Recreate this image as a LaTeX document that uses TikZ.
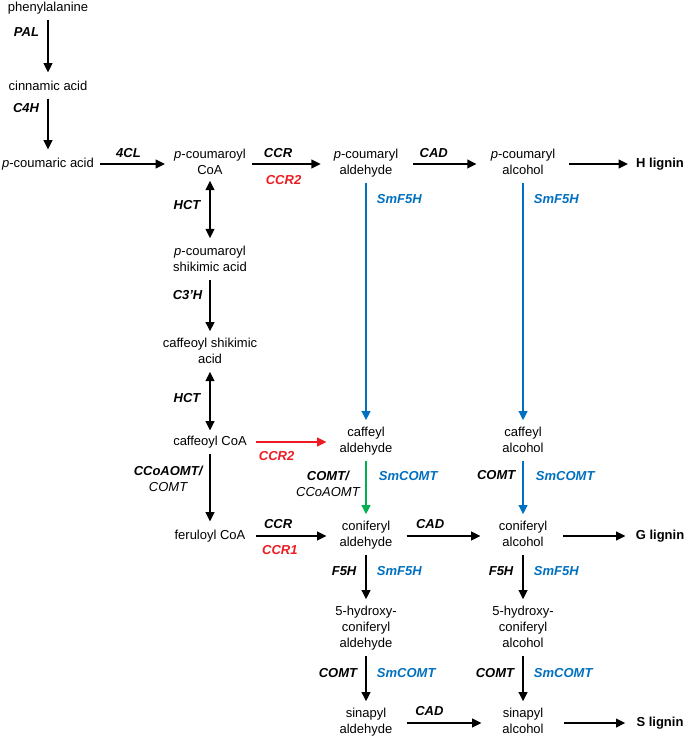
\documentclass[tikz,border=0pt]{standalone}
\usepackage{fontspec}
\setmainfont{Liberation Sans}
\usetikzlibrary{arrows.meta, positioning}
\definecolor{smblue}{RGB}{0,112,192}
\definecolor{ccrred}{RGB}{237,28,36}
\definecolor{comtgreen}{RGB}{0,176,80}

\begin{document}
\begin{tikzpicture}[
    x=0.75pt, y=-0.75pt,
    >={Triangle[length=7pt,width=6.5pt]},
    cpd/.style={
        align=center, inner xsep=3.5pt, inner ysep=2.5pt, on grid,
        font=\fontsize{9.75}{12}\selectfont,
        execute at begin node=\strut, execute at end node=\strut
    },
    lignin/.style={cpd, font=\fontsize{9.75}{12}\selectfont\bfseries},
    enz/.style={inner sep=2pt, text=black, font=\fontsize{9.75}{12}\selectfont\bfseries\itshape},
    smenz/.style={enz, text=smblue},
    redenz/.style={enz, text=ccrred},
    arrow/.style={->, line width=1.45pt},
    varrow/.style={arrow, shorten >=2.2pt},
    dblarrow/.style={<->, line width=1.45pt},
    bluearrow/.style={varrow, color=smblue},
    greenarrow/.style={varrow, color=comtgreen},
    redarrow/.style={arrow, color=ccrred}
]

\useasboundingbox (0,0) rectangle (688,737);
\fill[white] (0,0) rectangle (688,737);

% Phenylpropanoid entry
\node[cpd] (phe) at (48,8) {phenylalanine};
\node[cpd, below=59.25pt of phe] (cin) {cinnamic acid};
\node[cpd, below=57.75pt of cin] (pca) {\textit{p}-coumaric acid};

% H branch
\node[cpd, right=121.5pt of pca] (pcoa) {\textit{p}-coumaroyl\\CoA};
\node[cpd, right=117pt of pcoa] (pald) {\textit{p}-coumaryl\\aldehyde};
\node[cpd, right=117.75pt of pald] (palc) {\textit{p}-coumaryl\\alcohol};
\node[lignin, right=102.75pt of palc] (hlig) {H lignin};

% Shikimate shunt
\node[cpd, below=72.75pt of pcoa] (pshik) {\textit{p}-coumaroyl\\shikimic acid};
\node[cpd, below=69pt of pshik] (cshik) {caffeoyl shikimic\\acid};
\node[cpd, below=66.75pt of cshik] (ccoa) {caffeoyl CoA};
\node[cpd, below=70.5pt of ccoa] (fcoa) {feruloyl CoA};

% Caffeyl row
\node[cpd, right=117pt of ccoa] (cald) {caffeyl\\aldehyde};
\node[cpd, right=117.75pt of cald] (calc) {caffeyl\\alcohol};

% G branch
\node[cpd, right=117pt of fcoa] (conald) {coniferyl\\aldehyde};
\node[cpd, right=117.75pt of conald] (conalc) {coniferyl\\alcohol};
\node[lignin, right=102.75pt of conalc] (glig) {G lignin};

% S branch
\node[cpd, below=69.75pt of conald] (hconald) {5-hydroxy-\\coniferyl\\aldehyde};
\node[cpd, below=69.75pt of conalc] (hconalc) {5-hydroxy-\\coniferyl\\alcohol};
\node[cpd, below=70.5pt of hconald] (sald) {sinapyl\\aldehyde};
\node[cpd, below=70.5pt of hconalc] (salc) {sinapyl\\alcohol};
\node[lignin, right=102.75pt of salc] (slig) {S lignin};

% Arrows
\draw[varrow] (phe) -- node[enz, left=4pt, pos=0.23] {PAL} (cin);
\draw[varrow] (cin) -- node[enz, left=4pt, pos=0.17] {C4H} (pca);
\draw[arrow, shorten <=1pt, shorten >=3.2pt] (pca) -- node[enz, above=2pt, pos=0.42] {4CL} (pcoa);
\draw[arrow, shorten <=1pt, shorten >=6.2pt] (pcoa) -- node[enz, above=2pt, pos=0.35] {CCR}
    node[redenz, below=6pt, pos=0.42] {CCR2} (pald);
\draw[arrow, shorten <=7.5pt, shorten >=7pt] (pald) -- node[enz, above=2pt, pos=0.37] {CAD} (palc);
\draw[arrow, shorten <=7pt, shorten >=2.5pt] (palc) -- (hlig);

\draw[dblarrow, shorten <=-1.5pt, shorten >=3pt] (pcoa) -- node[enz, left=4.5pt, pos=0.38] {HCT} (pshik);
\draw[varrow] (pshik) -- node[enz, left=3pt, pos=0.28] {C3'H} (cshik);
\draw[dblarrow] (cshik) -- node[enz, left=4.5pt, pos=0.45] {HCT} (ccoa);
\draw[redarrow, shorten <=3.2pt, shorten >=6.2pt] (ccoa) -- node[redenz, below=4pt, pos=0.3] {CCR2} (cald);
\draw[varrow] (ccoa) -- node[enz, left=3pt, pos=0.35, align=center]
    {CCoAOMT/\\{\mdseries COMT}} (fcoa);
\draw[arrow, shorten <=4.6pt, shorten >=6.2pt] (fcoa) -- node[enz, above=3pt, pos=0.33] {CCR}
    node[redenz, below=4pt, pos=0.35] {CCR1} (conald);

\draw[bluearrow] (pald) -- node[smenz, right=5.5pt, pos=0.067] {SmF5H} (cald);
\draw[bluearrow] (palc) -- node[smenz, right=5.5pt, pos=0.067] {SmF5H} (calc);
\draw[greenarrow] (cald) -- node[enz, left=2pt, pos=0.41, align=center]
    {COMT/\\{\mdseries CCoAOMT}}
    node[smenz, right=7pt, pos=0.27] {SmCOMT} (conald);
\draw[bluearrow] (calc) -- node[enz, left=3pt, pos=0.26] {COMT}
    node[smenz, right=7pt, pos=0.27] {SmCOMT} (conalc);

\draw[arrow, shorten <=7pt, shorten >=10pt] (conald) -- node[enz, above=3pt, pos=0.34] {CAD} (conalc);
\draw[arrow, shorten <=8.5pt, shorten >=4pt] (conalc) -- (glig);
\draw[varrow] (conald) -- node[enz, left=4.5pt, pos=0.35] {F5H}
    node[smenz, right=5.5pt, pos=0.35] {SmF5H} (hconald);
\draw[varrow] (conalc) -- node[enz, left=4.5pt, pos=0.35] {F5H}
    node[smenz, right=5.5pt, pos=0.35] {SmF5H} (hconalc);
\draw[varrow] (hconald) -- node[enz, left=4pt, pos=0.35] {COMT}
    node[smenz, right=5.5pt, pos=0.35] {SmCOMT} (sald);
\draw[varrow] (hconalc) -- node[enz, left=4pt, pos=0.35] {COMT}
    node[smenz, right=5.5pt, pos=0.35] {SmCOMT} (salc);
\draw[arrow, shorten <=7pt, shorten >=12pt] (sald) -- node[enz, above=3pt, pos=0.32] {CAD} (salc);
\draw[arrow, shorten <=11.5pt, shorten >=4.7pt] (salc) -- (slig);

\end{tikzpicture}
\end{document}
